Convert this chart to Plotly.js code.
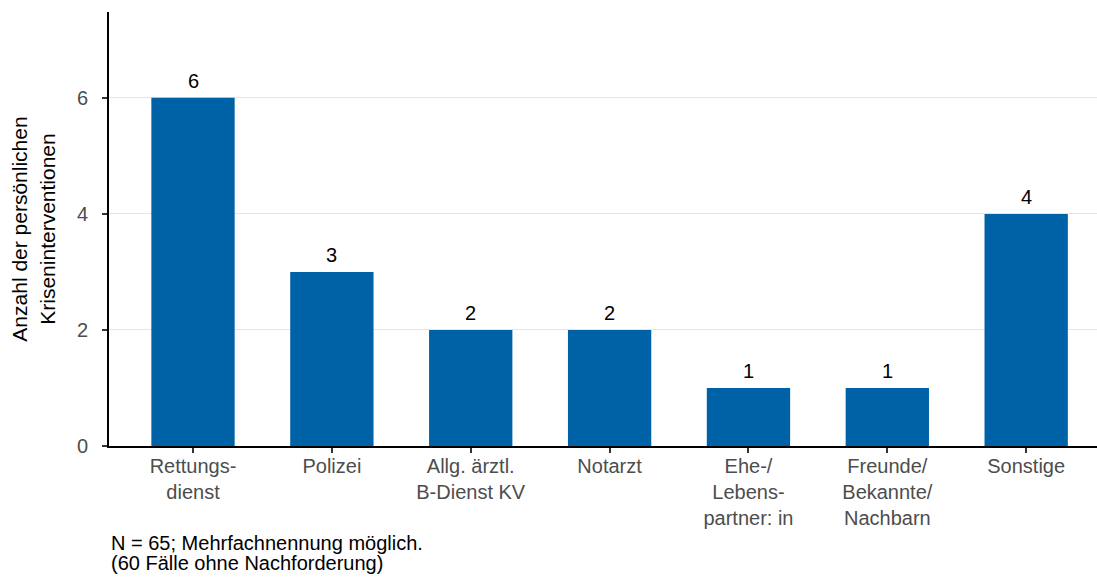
<!DOCTYPE html>
<html>
<head>
<meta charset="utf-8">
<script src="https://cdn.plot.ly/plotly-3.0.1.min.js"></script>
<style>html,body{margin:0;padding:0;background:#fff;}#chart{width:1097px;height:577px;}</style>
</head>
<body>
<div id="chart"></div>
<script>
const categories = ["Rettungs-<br>dienst", "Polizei", "Allg. ärztl.<br>B-Dienst KV", "Notarzt", "Ehe-/<br>Lebens-<br>partner: in", "Freunde/<br>Bekannte/<br>Nachbarn", "Sonstige"];
const values = [6, 3, 2, 2, 1, 1, 4];
const yTickVals = [0, 2, 4, 6];
const yTitle = "Anzahl der persönlichen<br>Kriseninterventionen";
const captionLines = ["N = 65; Mehrfachnennung möglich.", "(60 Fälle ohne Nachforderung)"];

const FONT = "Liberation Sans, Arial, sans-serif";
const positions = categories.map((c, i) => i);

const trace = {
  type: "bar",
  x: positions,
  y: values,
  width: 0.6,
  marker: {color: "#0062a6"},
  hoverinfo: "skip"
};

const valueLabels = values.map((v, i) => ({
  xref: "x", yref: "y", x: positions[i], y: v,
  xanchor: "center", yanchor: "bottom", yshift: 4,
  showarrow: false, text: String(v),
  font: {family: FONT, size: 20, color: "#000"}
}));

const captionAnn = captionLines.map((t, i) => ({
  xref: "paper", yref: "paper", x: 0, y: 0,
  xanchor: "left", yanchor: "middle",
  yshift: -(97 + i * 20),
  align: "left", showarrow: false, text: t,
  font: {family: FONT, size: 20, color: "#000"}
}));

const layout = {
  width: 1097,
  height: 577,
  margin: {l: 109, r: 0, t: 12, b: 131},
  paper_bgcolor: "#fff",
  plot_bgcolor: "#fff",
  showlegend: false,
  font: {family: FONT, color: "#000"},
  xaxis: {
    range: [-0.605, 6.51],
    tickvals: positions,
    ticktext: categories,
    tickfont: {family: FONT, size: 20, color: "#4d4d4d"},
    ticks: "outside",
    ticklen: 5,
    tickwidth: 2,
    tickcolor: "#333",
    ticklabelstandoff: -4,
    showline: true,
    linecolor: "#000",
    linewidth: 2,
    showgrid: false,
    zeroline: false,
    fixedrange: true
  },
  yaxis: {
    range: [0, 7.48],
    tickvals: yTickVals,
    tickfont: {family: FONT, size: 20, color: "#4d4d4d"},
    ticks: "outside",
    ticklen: 5,
    tickwidth: 2,
    tickcolor: "#333",
    ticklabelstandoff: 10,
    showline: true,
    linecolor: "#000",
    linewidth: 2,
    showgrid: true,
    gridcolor: "#e5e5e5",
    gridwidth: 1,
    zeroline: false,
    title: {text: yTitle, font: {family: FONT, size: 21, color: "#000"}, standoff: 16},
    fixedrange: true
  },
  annotations: valueLabels.concat(captionAnn)
};

Plotly.newPlot("chart", [trace], layout, {displayModeBar: false, staticPlot: true});
</script>
</body>
</html>
